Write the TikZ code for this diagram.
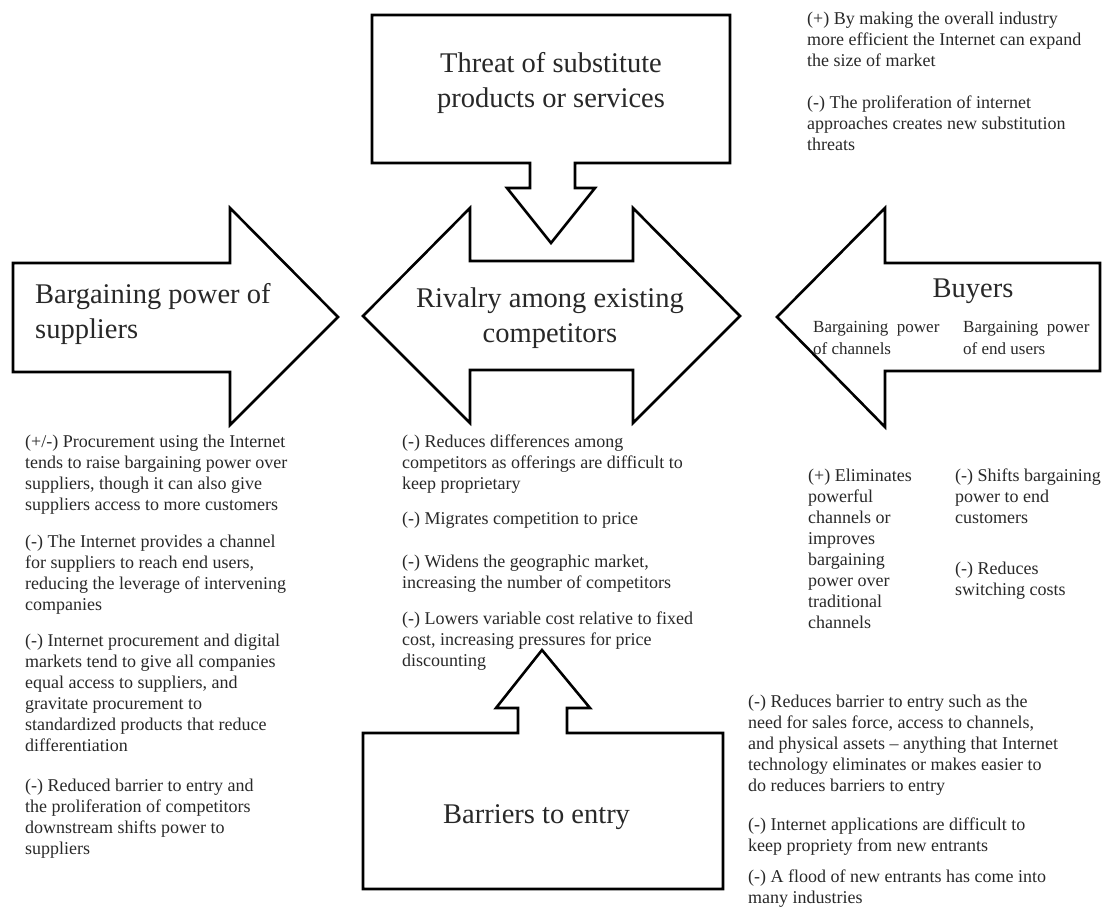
\documentclass[tikz,border=0pt]{standalone}
\usepackage{fontspec}
\setmainfont{Liberation Serif}
\usepackage{tikz}
\usetikzlibrary{positioning,calc}
\definecolor{InkGray}{RGB}{40,40,40}
\tikzset{
  force/.style={draw=black,line width=2.6pt,line join=miter,fill=white},
  title/.style={font=\fontsize{28.5}{35}\selectfont,text=InkGray,inner sep=0pt,align=center,anchor=base},
  note/.style={font=\fontsize{18}{21}\selectfont,text=InkGray,inner sep=0pt,align=left,anchor=base west},
  subnote/.style={note,font=\fontsize{17}{22}\selectfont},
}

\begin{document}
\begin{tikzpicture}[x=1pt,y=-1pt]
\useasboundingbox (0,0) rectangle (1103,908);
\draw[force] (13,263) -- (230,263) -- (230,208) -- (338,317) -- (230,425) -- (230,372) -- (13,372) -- cycle;
\draw[force] (363,316) -- (470,208) -- (470,261) -- (633,261) -- (633,208) -- (740,316)
  -- (633,423) -- (633,370) -- (470,370) -- (470,423) -- cycle;
\draw[force] (777,317) -- (885,208) -- (885,263) -- (1100,263) -- (1100,371) -- (885,371) -- (885,427) -- cycle;
\draw[force] (372,15) -- (730,15) -- (730,163) -- (575,163) -- (575,188) -- (595,188) -- (551,243)
  -- (507,188) -- (530,188) -- (530,163) -- (372,163) -- cycle;
\draw[force] (363,733) -- (518,733) -- (518,708) -- (496,708) -- (542,650) -- (590,708) -- (567,708)
  -- (567,733) -- (723,733) -- (723,889) -- (363,889) -- cycle;

% multi-line nodes sit on the baseline of their last line
\node[title,anchor=base west,align=left] (sup) at (35,338) {Bargaining power of\\suppliers};
\node[title] (riv) at (550,342) {Rivalry among existing\\competitors};
\node[title] (thr) at (551,107) {Threat of substitute\\products or services};
\node[title] (buy) at (973,297) {Buyers};
\node[title,anchor=base west] (bar) at (443,823) {Barriers to entry};
\node[subnote] (chan) at (813,354) {Bargaining~~power\\of channels};
\node[subnote] (endu) at (963,354) {Bargaining~~power\\of end users};

\node[note] (sub1) at (807,66) {(+) By making the overall industry\\more efficient the Internet can expand\\the size of market};
\node[note] (sub2) at (807,150) {(-) The proliferation of internet\\approaches creates new substitution\\threats};

\node[note] (sp1) at (25,510) {(+/-) Procurement using the Internet\\tends to raise bargaining power over\\suppliers, though it can also give\\suppliers access to more customers};
\node[note] (sp2) at (25,610) {(-) The Internet provides a channel\\for suppliers to reach end users,\\reducing the leverage of intervening\\companies};
\node[note] (sp3) at (25,751) {(-) Internet procurement and digital\\markets tend to give all companies\\equal access to suppliers, and\\gravitate procurement to\\standardized products that reduce\\differentiation};
\node[note] (sp4) at (25,854) {(-) Reduced barrier to entry and\\the proliferation of competitors\\downstream shifts power to\\suppliers};

\node[note] (rv1) at (402,489) {(-) Reduces differences among\\competitors as offerings are difficult to\\keep proprietary};
\node[note] (rv2) at (402,524) {(-) Migrates competition to price};
\node[note] (rv3) at (402,588) {(-) Widens the geographic market,\\increasing the number of competitors};
\node[note] (rv4) at (402,666) {(-) Lowers variable cost relative to fixed\\cost, increasing pressures for price\\discounting};

\node[note] (by1) at (808,628) {(+) Eliminates\\powerful\\channels or\\improves\\bargaining\\power over\\traditional\\channels};
\node[note] (by2) at (955,523) {(-) Shifts bargaining\\power to end\\customers};
\node[note] (by3) at (955,595) {(-) Reduces\\switching costs};

\node[note] (br1) at (748,791) {(-) Reduces barrier to entry such as the\\need for sales force, access to channels,\\and physical assets -- anything that Internet\\technology eliminates or makes easier to\\do reduces barriers to entry};
\node[note] (br2) at (748,851) {(-) Internet applications are difficult to\\keep propriety from new entrants};
\node[note] (br3) at (748,903) {(-) A flood of new entrants has come into\\many industries};
\end{tikzpicture}
\end{document}
